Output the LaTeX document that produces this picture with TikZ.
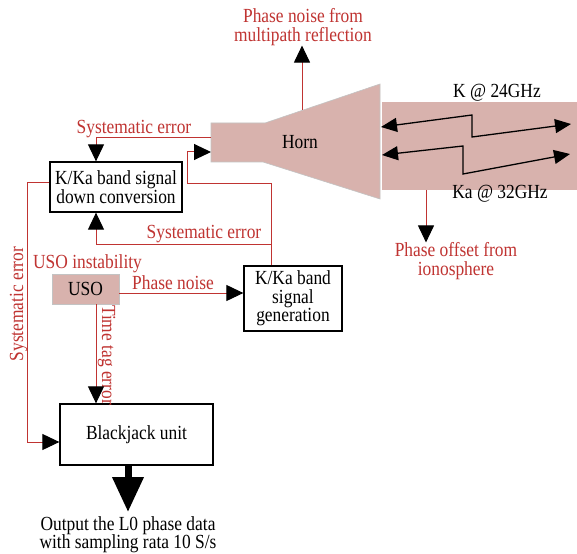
\documentclass[tikz,border=0pt]{standalone}
\usepackage{fontspec}
\setmainfont{Liberation Serif}[FakeStretch=0.87]
\usetikzlibrary{arrows.meta}
\definecolor{errred}{RGB}{192,52,50}
\definecolor{hornpink}{RGB}{216,178,173}
\definecolor{rimgray}{RGB}{195,195,195}
\begin{document}
\begin{tikzpicture}[x=1pt,y=-1pt,
  every node/.style={font=\fontsize{20}{18.4}\selectfont, inner sep=0pt},
  blockbox/.style={draw=black, line width=1.3pt, fill=white, align=center},
  err/.style={draw=errred, line width=1pt},
  errtip/.style={err, -{Triangle[length=17pt,width=16pt,color=black]}},
  errtxt/.style={text=errred},
  wave/.style={draw=black, line width=1.3pt,
    {Triangle[length=16pt,width=14pt]}-{Triangle[length=16pt,width=14pt]}},
]
\useasboundingbox[fill=white] (0,0) rectangle (577,553);

% horn antenna and the radio beam in front of it
\filldraw[fill=hornpink, draw=rimgray, line width=0.6pt]
  (211,123) -- (265,123) -- (380,84) -- (380,199) -- (263,162) -- (211,162) -- cycle;
\fill[hornpink] (382,102) rectangle (577,190);
\node (horn) at (300,142) {Horn};

\coordinate (hornErr) at (211,138);
\coordinate (hornIn) at (211,152);
\coordinate (hornTop) at (302,110);
\coordinate (beamBot) at (426,190);

% K and Ka band links
\coordinate (kL) at (381,127);
\coordinate (kA) at (472,115);
\coordinate (kB) at (472,137);
\coordinate (kR) at (571,124);
\draw[wave] (kL) -- (kA) -- (kB) -- (kR);
\coordinate (kaL) at (382,155);
\coordinate (kaA) at (463,146);
\coordinate (kaB) at (463,174);
\coordinate (kaR) at (570,154);
\draw[wave] (kaL) -- (kaA) -- (kaB) -- (kaR);
\node[anchor=base] (klab) at (497,98) {K @ 24GHz};
\node[anchor=base] (kalab) at (500,198) {Ka @ 32GHz};

% processing blocks
\node[blockbox, minimum width=132pt, minimum height=50pt] (dc) at (116,187)
  {K/Ka band signal\\down conversion};
\node[blockbox, minimum width=98pt, minimum height=65pt] (gen) at (293,298.5)
  {K/Ka band\\signal\\generation};
\node[draw=rimgray, fill=hornpink, line width=0.8pt, minimum width=67pt,
  minimum height=30pt] (uso) at (85.5,289) {USO};
\node[blockbox, minimum width=153pt, minimum height=61pt] (bj) at (136.5,434.5)
  {Blackjack unit};

% error sources
\node[errtxt, align=center] (noiseLab) at (303,27) {Phase noise from\\multipath reflection};
\node[errtxt, align=center] (offLab) at (456,261) {Phase offset from\\ionosphere};
\node[errtxt, anchor=base] (sysTop) at (134,134) {Systematic error};
\node[errtxt, anchor=base] (sysMid) at (204,238) {Systematic error};
\node[errtxt, anchor=base, rotate=90] (sysLeft) at (23,304) {Systematic error};
\node[errtxt, anchor=base] (usoLab) at (87.5,268) {USO instability};
\node[errtxt, anchor=base] (pnLab) at (173,289) {Phase noise};
\node[errtxt, anchor=base, rotate=-90] (ttLab) at (102,355) {Time tag error};

\draw[errtip] (hornTop) -- (hornTop |- noiseLab.south);
\draw[errtip] (beamBot) -- (beamBot |- offLab.north);
\draw[errtip] (hornErr) -| ([xshift=-20pt]dc.north);

\coordinate (g1) at (271,184);
\coordinate (g2) at (187,184);
\coordinate (g3) at (187,152);
\draw[errtip] ([xshift=-22pt]gen.north) -- (g1) -- (g2) -- (g3) -- (hornIn);
\coordinate (br) at (271,244);
\coordinate (br2) at (96,244);
\draw[errtip] (br) -- (br2) -- ([xshift=-20pt]dc.south);

\coordinate (l1) at (27,183);
\coordinate (l2) at (27,442);
\draw[errtip] (dc.west |- l1) -- (l1) -- (l2) -- (bj.west |- l2);

\draw[errtip] ([yshift=-4pt]uso.east) -- ([yshift=-4pt]uso.east -| gen.west);
\draw[errtip] ([xshift=10.5pt]uso.south) -- ([xshift=10.5pt]uso.south |- bj.north);

% level-0 output
\coordinate (outTip) at (128,512);
\node[align=center] (outLab) at (128,535)
  {Output the L0 phase data\\with sampling rata 10 S/s};
\draw[line width=7pt, -{Triangle[length=35pt,width=30pt]}]
  ([xshift=-8.5pt]bj.south) -- (outTip);
\end{tikzpicture}
\end{document}
